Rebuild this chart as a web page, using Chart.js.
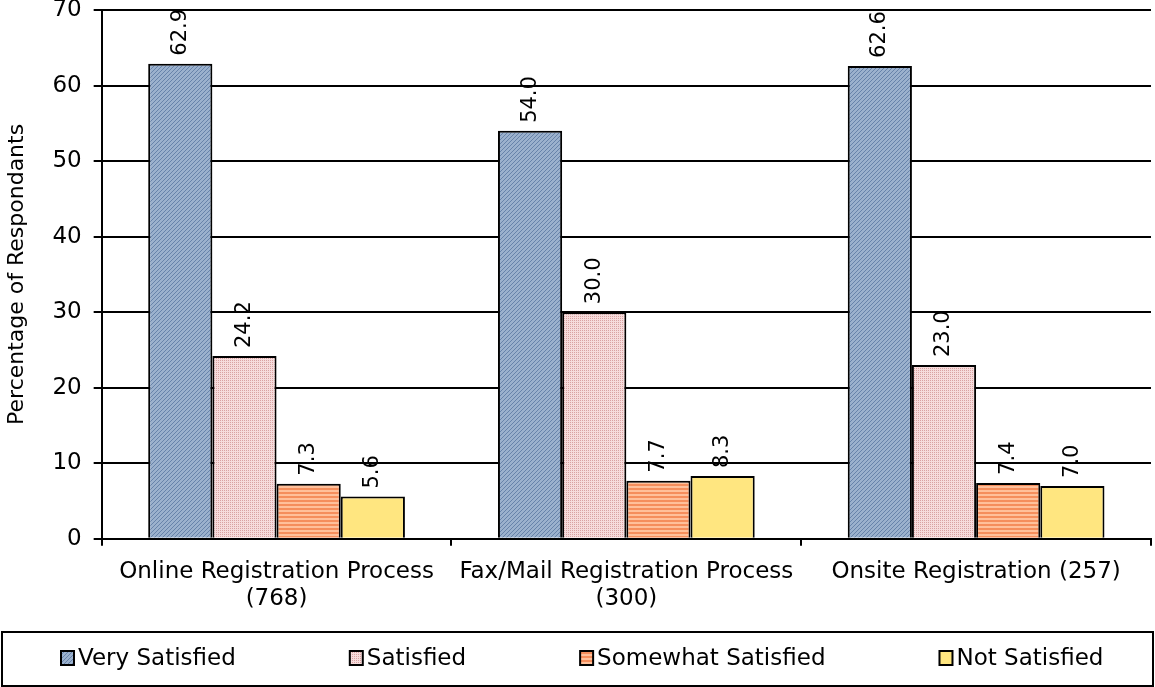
<!DOCTYPE html>
<html>
<head>
<meta charset="utf-8">
<script src="https://cdn.jsdelivr.net/npm/chart.js@4"></script>
<style>
  body { margin: 0; background: #fff; }
  #wrap { width: 1155px; height: 687px; }
</style>
</head>
<body>
<div id="wrap"><canvas id="satChart" width="1155" height="687"></canvas></div>
<script>
const categories = [['Online Registration Process', '(768)'], ['Fax/Mail Registration Process', '(300)'], 'Onsite Registration (257)'];
const seriesNames = ['Very Satisfied', 'Satisfied', 'Somewhat Satisfied', 'Not Satisfied'];
const verySatisfied = [62.9, 54.0, 62.6];
const satisfied = [24.2, 30.0, 23.0];
const somewhatSatisfied = [7.3, 7.7, 7.4];
const notSatisfied = [5.6, 8.3, 7.0];
const yTicks = [0, 10, 20, 30, 40, 50, 60, 70];

const FONT = "'DejaVu Sans', Verdana, sans-serif";

// small canvas tiles to mimic the Excel fill patterns
function makePattern(size, draw) {
    const c = document.createElement('canvas');
    c.width = size; c.height = size;
    const g = c.getContext('2d');
    draw(g);
    return g.createPattern(c, 'repeat');
}

const pctx = document.getElementById('satChart').getContext('2d');

const bluePat = makePattern(4, g => {
    g.fillStyle = '#9bb1cd'; g.fillRect(0, 0, 4, 4);
    g.fillStyle = '#6783aa';
    for (let i = 0; i < 4; i++) { g.fillRect(i, 3 - i, 1, 1); }
});
const pinkPat = makePattern(4, g => {
    g.fillStyle = '#f6dcdc'; g.fillRect(0, 0, 4, 4);
    g.fillStyle = '#d9a2a2';
    g.fillRect(0, 0, 1, 1); g.fillRect(2, 2, 1, 1); g.fillRect(2, 0, 1, 1); g.fillRect(0, 2, 1, 1);
});
const orangePat = makePattern(4, g => {
    g.fillStyle = '#ffc09a'; g.fillRect(0, 0, 4, 4);
    g.fillStyle = '#f58e5c';
    g.fillRect(0, 0, 4, 2);
});
const fills = [bluePat, pinkPat, orangePat, '#ffe680'];
const allValues = [verySatisfied, satisfied, somewhatSatisfied, notSatisfied];

// value labels written vertically above each bar
const barLabels = {
    id: 'barLabels',
    afterDatasetsDraw(chart) {
        const ctx = chart.ctx;
        ctx.save();
        ctx.font = '21px ' + FONT;
        ctx.fillStyle = '#000';
        chart.data.datasets.forEach((ds, i) => {
            chart.getDatasetMeta(i).data.forEach((bar, j) => {
                ctx.save();
                ctx.translate(bar.x, bar.y - 8);
                ctx.rotate(-Math.PI / 2);
                ctx.textAlign = 'left';
                ctx.textBaseline = 'middle';
                ctx.fillText(ds.data[j].toFixed(1), 0, 0);
                ctx.restore();
            });
        });
        ctx.restore();
    }
};

// boxed legend along the bottom
const boxLegend = {
    id: 'boxLegend',
    afterDraw(chart) {
        const ctx = chart.ctx;
        ctx.save();
        ctx.lineWidth = 2;
        ctx.strokeStyle = '#000';
        ctx.strokeRect(2, 632, 1151, 54);
        ctx.font = '23px ' + FONT;
        ctx.textBaseline = 'middle';
        ctx.textAlign = 'left';
        let x = 61;
        const y = 658;
        chart.data.datasets.forEach((ds, i) => {
            ctx.fillStyle = fills[i];
            ctx.fillRect(x, y - 7, 13, 14);
            ctx.lineWidth = 2;
            ctx.strokeRect(x, y - 7, 13, 14);
            ctx.fillStyle = '#000';
            ctx.fillText(ds.label, x + 17, y + 1);
            x += 17 + ctx.measureText(ds.label).width + 114;
        });
        ctx.restore();
    }
};

new Chart(pctx, {
    type: 'bar',
    data: {
        labels: categories,
        datasets: seriesNames.map((name, i) => ({
            label: name,
            data: allValues[i],
            backgroundColor: fills[i],
            borderColor: '#000',
            borderWidth: 2,
            categoryPercentage: 0.734,
            barPercentage: 1.0
        }))
    },
    options: {
        responsive: false,
        animation: false,
        layout: { padding: { top: 0, right: 4, bottom: 62, left: 4 } },
        plugins: {
            legend: { display: false },
            tooltip: { enabled: false }
        },
        scales: {
            x: {
                grid: { display: true, drawOnChartArea: false, offset: true, color: '#000', lineWidth: 2, tickLength: 7 },
                border: { color: '#000', width: 2 },
                ticks: { color: '#000', font: { family: FONT, size: 23, lineHeight: 1.2 }, maxRotation: 0, padding: 12 }
            },
            y: {
                min: 0,
                max: 70,
                afterBuildTicks(axis) { axis.ticks = yTicks.map(v => ({ value: v })); },
                afterFit(axis) { axis.paddingTop = 10; axis.paddingBottom = 10; },
                grid: { color: '#000', lineWidth: 2, tickLength: 8 },
                border: { color: '#000', width: 2 },
                ticks: { color: '#000', font: { family: FONT, size: 23 }, padding: 12 },
                title: { display: true, text: 'Percentage of Respondants', color: '#000', font: { family: FONT, size: 22 }, padding: { top: 0, bottom: 10 } }
            }
        }
    },
    plugins: [barLabels, boxLegend]
});
</script>
</body>
</html>
